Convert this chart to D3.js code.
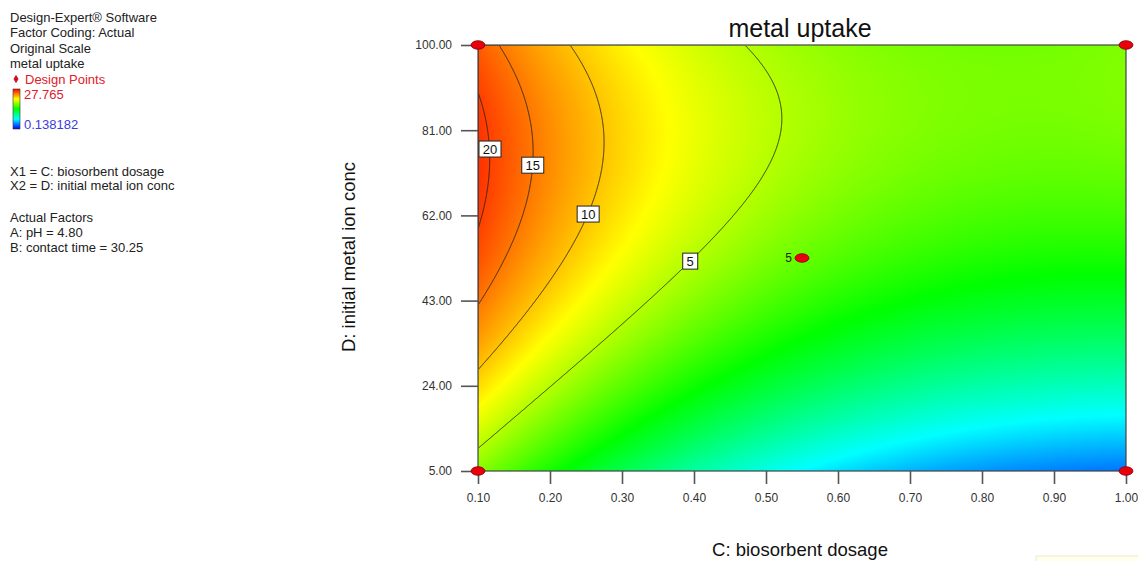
<!DOCTYPE html>
<html><head><meta charset="utf-8">
<script src="https://cdn.jsdelivr.net/npm/d3@7"></script>
<style>
body{margin:0;background:#fff}
svg{display:block}
text{font-family:"Liberation Sans",Arial,Helvetica,sans-serif}
</style>
</head><body>
<svg id="chart" width="1138" height="561"></svg>
<script>
// ---------------- data ----------------
const chartTitle = "metal uptake";
const xLabel = "C: biosorbent dosage";
const yLabel = "D: initial metal ion conc";
const xDomain = [0.10, 1.00];
const yDomain = [5, 100];
const xTicks = [0.10, 0.20, 0.30, 0.40, 0.50, 0.60, 0.70, 0.80, 0.90, 1.00];
const yTicks = [5, 24, 43, 62, 81, 100];
const responseRange = [0.138182, 27.765];
// fitted model (log scale) in coded factors X1 = C, X2 = D
const modelTerms = ["1", "X1", "X2", "X1X2", "X1^2", "X2^2", "X1^3", "X1^2X2"];
const modelCoef  = [1.20, -0.997, 1.0725, 0.309, 0.645, -0.804, -0.068, -0.0275];
const contourLevels = [5, 10, 15, 20];
const contourLabelConc = [51.8, 62.3, 73.2, 76.8];
const designC = [0.10, 0.10, 1.00, 1.00, 0.55];
const designD = [5, 100, 100, 5, 52.5];
const designReps = [1, 1, 1, 1, 5];
const legendLines = ["Design-Expert\u00AE Software", "Factor Coding: Actual", "Original Scale", "metal uptake"];
const factorLines = ["X1 = C: biosorbent dosage", "X2 = D: initial metal ion conc"];
const actualLines = ["Actual Factors", "A: pH = 4.80", "B: contact time = 30.25"];

// ---------------- layout ----------------
const x0 = 478, x1 = 1126, y0 = 45, y1 = 471;
const W = x1 - x0, H = y1 - y0;
const svg = d3.select("#chart");
const xScale = d3.scaleLinear().domain(xDomain).range([x0, x1]);
const yScale = d3.scaleLinear().domain(yDomain).range([y1, y0]);

function logResp(c, d) {
  const X = (c - 0.55) / 0.45, Y = (d - 52.5) / 47.5;
  const b = modelCoef;
  return b[0] + b[1]*X + b[2]*Y + b[3]*X*Y + b[4]*X*X + b[5]*Y*Y + b[6]*X*X*X + b[7]*X*X*Y;
}
const lmin = Math.log(responseRange[0]), lmax = Math.log(responseRange[1]);
const palette = d3.scaleLinear().domain([0, .25, .5, .75, 1])
  .range(["#0000ff", "#00ffff", "#00ff00", "#ffff00", "#ff0000"]).clamp(true);

// ---------------- raster ----------------
const LUT = [];
for (let k = 0; k < 1024; k++) { const c = d3.rgb(palette(k / 1023)); LUT.push([c.r, c.g, c.b]); }
const cv = document.createElement("canvas");
cv.width = W; cv.height = H;
const ctx = cv.getContext("2d");
const img = ctx.createImageData(W, H);
for (let j = 0; j < H; j++) {
  const d = yScale.invert(y0 + j + 0.5);
  for (let i = 0; i < W; i++) {
    const c = xScale.invert(x0 + i + 0.5);
    let t = (logResp(c, d) - lmin) / (lmax - lmin);
    t = Math.max(0, Math.min(1, t));
    const col = LUT[Math.round(t * 1023)];
    const p = (j * W + i) * 4;
    img.data[p] = col[0]; img.data[p+1] = col[1]; img.data[p+2] = col[2]; img.data[p+3] = 255;
  }
}
ctx.putImageData(img, 0, 0);
svg.append("image").attr("x", x0).attr("y", y0).attr("width", W).attr("height", H)
  .attr("preserveAspectRatio", "none").attr("href", cv.toDataURL());

// ---------------- contours ----------------
const nx = W, ny = H;
const vals = new Float64Array(nx * ny);
for (let j = 0; j < ny; j++) {
  const d = yScale.invert(y0 + (j + 0.5) * H / ny);
  for (let i = 0; i < nx; i++) {
    vals[j * nx + i] = logResp(xScale.invert(x0 + (i + 0.5) * W / nx), d);
  }
}
const contours = d3.contours().size([nx, ny]).thresholds(contourLevels.map(Math.log))(vals);
const proj = d3.geoTransform({ point(x, y) { this.stream.point(x0 + x * W / nx, y0 + y * H / ny); } });
const gp = d3.geoPath(proj);
svg.append("clipPath").attr("id", "clip").append("rect")
  .attr("x", x0 + 0.7).attr("y", y0 + 0.7).attr("width", W - 1.4).attr("height", H - 1.4);
svg.append("g").attr("clip-path", "url(#clip)").selectAll("path").data(contours).join("path")
  .attr("d", gp).attr("fill", "none").attr("stroke", "#222").attr("stroke-width", 0.9);

// contour labels
contourLevels.forEach((lev, k) => {
  const d = contourLabelConc[k];
  const target = Math.log(lev);
  let c = xDomain[0], prev = logResp(c, d) - target;
  for (let s = 1; s <= 2000; s++) {
    const cc = xDomain[0] + (xDomain[1] - xDomain[0]) * s / 2000;
    const v = logResp(cc, d) - target;
    if ((prev >= 0) !== (v >= 0)) { c = cc; break; }
    prev = v;
  }
  const px = Math.max(xScale(c), x0 + 12), py = yScale(d);
  const txt = String(lev);
  const bw = txt.length > 1 ? 22 : 15, bh = 16;
  const g = svg.append("g");
  g.append("rect").attr("x", px - bw / 2).attr("y", py - bh / 2).attr("width", bw).attr("height", bh)
    .attr("fill", "#fff").attr("stroke", "#222").attr("stroke-width", 1);
  g.append("text").attr("x", px).attr("y", py).attr("dy", "0.36em").attr("text-anchor", "middle")
    .attr("font-size", 13).attr("fill", "#111").text(txt);
});

// ---------------- frame & axes ----------------
svg.append("rect").attr("x", x0).attr("y", y0).attr("width", W).attr("height", H)
  .attr("fill", "none").attr("stroke", "#444").attr("stroke-width", 1.2);

const ax = svg.append("g").attr("transform", `translate(0,${y1})`)
  .call(d3.axisBottom(xScale).tickValues(xTicks).tickFormat(d3.format(".2f")).tickSize(13).tickPadding(9));
const ay = svg.append("g").attr("transform", `translate(${x0},0)`)
  .call(d3.axisLeft(yScale).tickValues(yTicks).tickFormat(d3.format(".2f")).tickSize(17).tickPadding(9));
[ax, ay].forEach(a => {
  a.select(".domain").remove();
  a.selectAll("line").attr("stroke", "#555").attr("stroke-width", 1.6);
  a.selectAll("text").attr("font-size", 12).attr("fill", "#333")
    .style("font-family", '"Liberation Sans",Arial,sans-serif');
});

// design points
svg.append("g").selectAll("ellipse").data(designC.map((c, i) => ({c, d: designD[i], r: designReps[i]})))
  .join("ellipse").attr("cx", p => xScale(p.c)).attr("cy", p => yScale(p.d)).attr("rx", 7).attr("ry", 4.3)
  .attr("fill", "#e8000c").attr("stroke", "#8a0000").attr("stroke-width", 0.8);
svg.append("g").selectAll("text").data(designC.map((c, i) => ({c, d: designD[i], r: designReps[i]})).filter(p => p.r > 1))
  .join("text").attr("x", p => xScale(p.c) - 10).attr("y", p => yScale(p.d)).attr("dy", "0.32em")
  .attr("text-anchor", "end").attr("font-size", 12).attr("fill", "#222").text(p => p.r);

// titles
svg.append("text").attr("x", (x0 + x1) / 2 - 2).attr("y", 37).attr("text-anchor", "middle")
  .attr("font-size", 25).attr("fill", "#111").text(chartTitle);
svg.append("text").attr("x", 800).attr("y", 556).attr("text-anchor", "middle")
  .attr("font-size", 18.5).attr("fill", "#111").text(xLabel);
svg.append("text").attr("transform", "translate(355,257) rotate(-90)").attr("text-anchor", "middle")
  .attr("font-size", 18.5).attr("fill", "#111").text(yLabel);

// ---------------- left legend ----------------
const lg = svg.append("g").attr("font-size", 13).attr("fill", "#222");
legendLines.forEach((s, i) => lg.append("text").attr("x", 10).attr("y", 22 + i * 15.3).text(s));
lg.append("path").attr("d", d3.symbol(d3.symbolDiamond, 22)()).attr("transform", "translate(16,79)").attr("fill", "#c8102e");
lg.append("text").attr("x", 25).attr("y", 83.5).attr("fill", "#e0202a").text("Design Points");
const grad = svg.append("defs").append("linearGradient").attr("id", "lgrad").attr("x1", 0).attr("y1", 0).attr("x2", 0).attr("y2", 1);
[["0%", "#ff0000"], ["25%", "#ffff00"], ["50%", "#00ff00"], ["75%", "#00ffff"], ["100%", "#0000ff"]]
  .forEach(s => grad.append("stop").attr("offset", s[0]).attr("stop-color", s[1]));
lg.append("rect").attr("x", 13).attr("y", 89).attr("width", 7).attr("height", 40)
  .attr("fill", "url(#lgrad)").attr("stroke", "#333").attr("stroke-width", 0.6);
lg.append("text").attr("x", 24).attr("y", 98.5).attr("fill", "#e0202a").text(responseRange[1].toFixed(3));
lg.append("text").attr("x", 24).attr("y", 129).attr("fill", "#3c3ce0").text(String(responseRange[0]));
factorLines.forEach((s, i) => lg.append("text").attr("x", 10).attr("y", 175.5 + i * 14.5).text(s));
actualLines.forEach((s, i) => lg.append("text").attr("x", 10).attr("y", 221.5 + i * 15).text(s));

// faint tooltip edge at bottom right
svg.append("rect").attr("x", 1036).attr("y", 556).attr("width", 110).attr("height", 12)
  .attr("fill", "#fffff0").attr("stroke", "#ecebc8").attr("stroke-width", 1);
</script>
</body></html>
